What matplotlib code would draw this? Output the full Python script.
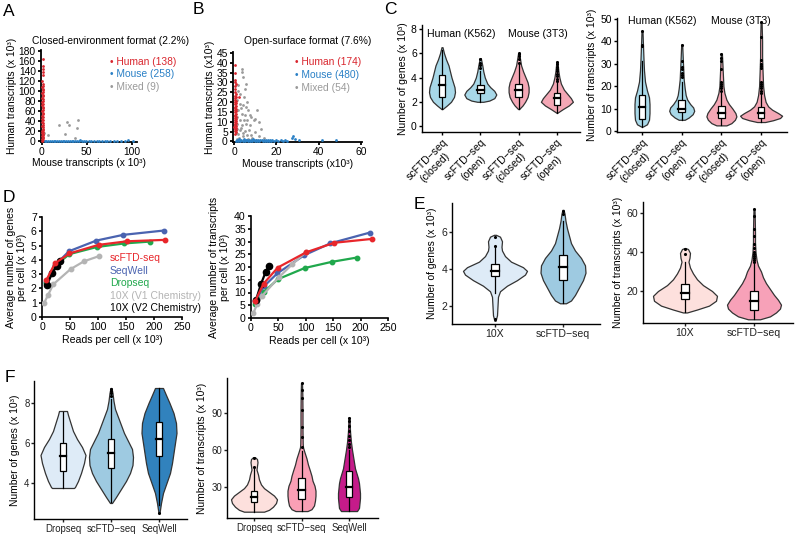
import numpy as np
import matplotlib
matplotlib.use('Agg')
import matplotlib.pyplot as plt
from matplotlib.patches import Rectangle

plt.rcParams['font.family'] = ['Liberation Sans', 'DejaVu Sans']

# ---------------- data ----------------
# A: closed-environment species mixing (x = mouse, y = human transcripts, x10^3)
human_a = [(0.5, 1), (1.0, 3), (0.3, 5), (1.2, 7), (0.8, 9), (0.4, 11), (1.5, 13), (0.9, 15),
           (0.6, 17), (1.1, 19), (0.2, 21), (1.3, 23), (0.7, 25), (1.0, 28), (0.5, 30), (1.4, 33),
           (0.8, 36), (0.3, 39), (1.2, 42), (0.6, 45), (1.0, 48), (0.4, 51), (1.3, 54), (0.9, 57),
           (0.5, 60), (1.1, 63), (0.7, 66), (1.5, 69), (0.3, 72), (1.0, 75), (0.6, 78), (1.2, 81),
           (0.8, 84), (0.4, 87), (1.1, 90), (0.9, 93), (0.5, 96), (1.3, 99), (0.7, 102), (1.0, 105),
           (0.6, 108), (1.2, 111), (0.9, 115), (0.4, 120), (1.1, 133), (0.8, 138), (1.3, 145),
           (0.7, 151), (1.0, 165)]
mouse_a = [(3, 1), (5, 0.5), (7, 1.5), (9, 0.5), (11, 1), (13, 0.5), (15, 1.5), (17, 0.5), (19, 1),
           (21, 0.5), (23, 1.5), (25, 1), (27, 0.5), (29, 1), (31, 1.5), (33, 0.5), (35, 1), (37, 0.5),
           (39, 1), (41, 1.5), (43, 3), (45, 0.5), (47, 1), (49, 0.5), (52, 1), (55, 0.5), (58, 1),
           (61, 0.5), (64, 1), (67, 0.5), (70, 1.5), (73, 0.5), (76, 1), (80, 0.5), (84, 1), (88, 0.5),
           (93, 1), (96, 2.5), (101, 0.5)]
mixed_a = [(2, 17), (7, 12), (19, 32), (26, 14), (28, 39), (30, 33), (39, 27), (40, 42), (37, 7)]

# B: open-surface species mixing
human_b = [(0.4, 4), (0.8, 5), (0.3, 5.5), (0.9, 6), (0.5, 6.5), (0.7, 7), (0.2, 7.5), (1.0, 8),
           (0.6, 8.5), (0.4, 9), (0.9, 9.5), (0.3, 10), (0.7, 10.5), (0.5, 11), (1.0, 11.5), (0.4, 12),
           (0.8, 12.5), (0.6, 13), (0.3, 13.5), (0.9, 14), (0.5, 15), (0.7, 15.5), (0.4, 16), (1.0, 16.5),
           (0.6, 17), (0.3, 17.5), (0.8, 18), (0.5, 19), (0.7, 19.5), (0.4, 20), (0.9, 20.5), (0.6, 21),
           (0.3, 22), (0.8, 22.5), (0.5, 23), (0.7, 24), (0.4, 25), (0.6, 26.5), (0.5, 28), (0.8, 29),
           (0.4, 30), (0.6, 31), (0.5, 35), (0.4, 39), (2.2, 22.5)]
mouse_b = [(1, 0.3), (1.5, 0.8), (2, 0.4), (2.5, 1.0), (3, 0.2), (3.5, 0.7), (4, 0.4), (4.5, 1.1),
           (5, 0.3), (5.5, 0.8), (6, 0.5), (6.5, 0.2), (7, 0.9), (7.5, 0.4), (8, 0.7), (8.5, 0.3),
           (9, 1.0), (9.5, 0.5), (10, 0.2), (10.5, 0.8), (11, 0.4), (11.5, 0.6), (12, 0.3), (12.5, 0.9),
           (13, 0.5), (13.5, 0.2), (14, 0.7), (14.5, 0.4), (15, 0.9), (15.5, 0.3), (16, 0.6), (16.5, 0.2),
           (17, 0.8), (17.5, 0.4), (18, 0.5), (19, 0.3), (20, 0.7), (21, 0.4), (22, 0.6), (23, 0.3),
           (24, 0.5), (25, 0.3), (27.5, 1.5), (28, 2.5), (29, 1.0), (30.5, 0.5), (41.5, 0.5), (48, 0.5)]
mixed_b = [(3.7, 37), (4.1, 32.8), (5.7, 29.4), (2.1, 28.6), (2.9, 24.3), (4.8, 22.6), (1.3, 21.3),
           (2.9, 19.2), (4.4, 18.4), (5.7, 17.5), (6.8, 15.8), (2.1, 15.8), (3.7, 14.1), (5.2, 13.3),
           (7.6, 13.3), (1.3, 12.4), (2.9, 11.1), (4.8, 10.7), (6.3, 11.1), (9.2, 10.7), (1.6, 9),
           (3.7, 8.2), (5.7, 8.7), (7.6, 8.2), (11.9, 9.8), (12.7, 6.5), (1.3, 6.5), (2.9, 5.6),
           (5.2, 5.3), (7.3, 6), (9.8, 4.8), (2.1, 3.6), (4.1, 2.6), (6, 3.1), (8.7, 1.9), (2.5, 1.5),
           (4.8, 0.7), (6.8, 1), (10.5, 0.7), (14, 1.9), (3.7, 35.4), (5.2, 26.9), (10.8, 15.8),
           (10, 11.6), (1.8, 25.5), (3.3, 16.8), (6.2, 20.2), (8.2, 12.2), (1.0, 4.2), (3.1, 7.0),
           (8.0, 3.5), (4.4, 4.5), (1.6, 1.0), (12.0, 3.0)]

# C: violin profiles (value, relative width) + box stats (q1, median, q3, lower, upper) + outliers
c_groups = ['Human (K562)', 'Mouse (3T3)']
c_labels = ['scFTD\u2212seq\n(closed)', 'scFTD\u2212seq\n(open)', 'scFTD\u2212seq\n(closed)', 'scFTD\u2212seq\n(open)']
c_genes_y = [[1.4, 1.7, 2.0, 2.4, 2.8, 3.2, 3.6, 4.0, 4.5, 5.0, 5.5, 6.0, 6.5],
             [2.0, 2.1, 2.3, 2.6, 2.9, 3.2, 3.5, 4.0, 4.5, 5.0, 5.6],
             [1.4, 1.7, 2.0, 2.4, 2.8, 3.2, 3.6, 4.0, 4.5, 5.0, 5.5, 6.0],
             [1.1, 1.4, 1.7, 2.0, 2.3, 2.6, 3.0, 3.5, 4.0, 4.5, 5.3]]
c_genes_w = [[0.5, 5, 9, 12, 13, 12.5, 11, 9.5, 8, 6.5, 4, 2, 0.5],
             [3, 9, 14, 16, 14, 10, 7, 4.5, 3, 2, 0.5],
             [0.5, 4, 6.5, 9, 10, 10, 9, 7, 4.5, 2.5, 1.5, 0.5],
             [0.5, 6, 12, 16, 14, 11, 7, 4, 2.5, 1.5, 0.5]]
c_genes_box = [(2.4, 3.4, 4.2, 1.4, 6.3), (2.7, 3.0, 3.4, 2.0, 4.5),
               (2.4, 3.0, 3.5, 1.4, 5.0), (1.75, 2.3, 2.7, 1.1, 3.6)]
c_genes_out = [[], [4.8, 5.0, 5.2, 5.5], [5.2, 5.5, 5.8, 5.9, 6.0],
               [3.7, 3.9, 4.1, 4.3, 4.5, 4.7, 4.9, 5.1, 5.3]]

c_tx_y = [[2, 3, 5, 8, 12, 15, 18, 22, 27, 32, 38, 44.5],
          [5, 6, 7.5, 9, 10.5, 12, 14, 16, 19, 23, 28, 33, 38.5],
          [2.5, 3.5, 5, 6.5, 8, 10, 12, 14, 17, 20, 25, 30, 34.5],
          [4, 4.8, 5.8, 6.8, 8, 9.5, 11, 13, 16, 20, 26, 33, 40, 48.5]]
c_tx_w = [[1, 5, 7, 7.5, 7.5, 7, 5, 3, 2, 1.5, 1, 0.5],
          [3, 7, 11, 12.5, 11.5, 8.5, 5.5, 4, 3, 2, 1.5, 1, 0.5],
          [5, 10, 13.5, 15, 14, 11, 7.5, 5, 3, 2, 1.5, 1, 0.5],
          [4, 12, 19, 21, 17, 11, 7, 4.5, 3, 2, 1.5, 1, 1, 0.5]]
c_tx_box = [(5.5, 10.5, 16, 2, 31), (8.5, 10, 14, 5, 22), (6, 8, 11, 2.5, 17), (6, 8, 10.5, 4, 16.5)]
c_tx_out = [[38, 38.5, 44.5], [24, 25, 26, 27.5, 28.5, 31, 38.5],
            [18, 19, 20, 21, 22, 27.5, 31, 32.5, 34.5],
            [17, 18, 19, 20, 21, 22, 28, 29, 30, 31.5, 42, 48.5]]

# D: saturation curves (reads per cell x10^3)
d_names = ['scFTD-seq', 'SeqWell', 'Dropseq', '10X (V1 Chemistry)', '10X (V2 Chemistry)']
d_reads = [[8, 23, 49, 101, 152, 220],
           [8, 24, 48, 97, 145, 217],
           [8, 24, 49, 98, 147, 193],
           [4, 11, 20, 51, 75, 101],
           [9, 18, 27, 33]]
d_genes = [[2.6, 3.75, 4.45, 5.05, 5.3, 5.4],
           [2.45, 3.65, 4.6, 5.35, 5.75, 6.05],
           [2.35, 3.6, 4.4, 4.9, 5.15, 5.28],
           [1.0, 1.55, 2.28, 3.35, 3.9, 4.25],
           [2.25, 3.05, 3.6, 3.9]]
d_tx = [[6.8, 13.5, 19.8, 25.8, 29.5, 31.0],
        [6.5, 12.5, 17.5, 24.6, 29.3, 33.5],
        [5.5, 10.3, 15.2, 19.6, 22.0, 23.7],
        [1.8, 5.3, 8.6, 16.0, 21.0, 26.0],
        [7.0, 13.2, 18.2, 20.5]]

# E: 10X vs scFTD-seq
e_labels = ['10X', 'scFTD\u2212seq']
e_genes_y = [[1.2, 1.5, 2.0, 2.5, 2.8, 3.1, 3.4, 3.7, 3.9, 4.1, 4.4, 4.7, 5.0, 5.2, 5.5, 5.75, 5.85],
             [2.15, 2.3, 2.6, 3.0, 3.4, 3.8, 4.2, 4.6, 5.0, 5.4, 5.8, 6.2, 6.6, 7.0, 7.2]]
e_genes_w = [[0.5, 2, 2.5, 3, 5, 12, 22, 30, 32, 28, 16, 10, 7, 6.5, 7, 5, 1],
             [3, 8, 12, 16, 20, 22.5, 22, 18, 12, 8, 6, 4, 2.5, 1.5, 0.5]]
e_genes_box = [(3.6, 3.9, 4.3, 2.7, 5.2), (3.4, 4.1, 4.75, 2.15, 6.6)]
e_genes_out = [[1.3, 5.25, 5.75], [7.0, 7.15]]
e_tx_y = [[9, 10.5, 12.5, 15, 17.5, 20, 23, 26, 29, 32, 35, 37, 39.5, 41.5, 42],
          [5.5, 7, 9, 11, 13, 15.5, 18, 21, 24, 27, 30, 33, 36, 40, 45, 50, 56, 62]]
e_tx_w = [[2, 12, 24, 31, 32, 27, 18, 12, 8, 5, 3.5, 4.5, 5, 3, 0.5],
          [6, 16, 22, 26, 27, 24, 20, 16, 12, 9, 7, 4, 2.5, 1.5, 1, 1, 0.8, 0.5]]
e_tx_box = [(16, 19, 23.5, 9, 35), (10.5, 15, 20, 5.5, 34)]
e_tx_out = [[39, 41.5], [35, 36, 37, 38, 39, 40, 42, 44, 48, 52, 58.5, 62]]

# F: Dropseq / scFTD-seq / SeqWell
f_labels = ['Dropseq', 'scFTD\u2212seq', 'SeqWell']
f_genes_y = [[3.75, 3.8, 4.1, 4.5, 5.0, 5.4, 5.8, 6.2, 6.6, 7.0, 7.4, 7.6],
             [3.0, 3.3, 3.7, 4.1, 4.5, 4.9, 5.3, 5.7, 6.1, 6.5, 6.9, 7.3, 7.7, 8.1, 8.5, 8.75],
             [2.5, 3.0, 3.5, 4.0, 4.5, 5.0, 5.5, 6.0, 6.5, 7.0, 7.5, 8.0, 8.4, 8.75]]
f_genes_w = [[11, 12, 15, 18, 21, 22.5, 19, 14, 10, 7.5, 5, 4],
             [1, 5, 10, 15, 19, 21.5, 22, 21, 17, 13, 10, 7, 4, 2.5, 1.5, 0.5],
             [0.5, 2, 4, 7.5, 11, 13, 14.5, 16, 17.5, 17, 14.5, 10.5, 7, 4]]
f_genes_box = [(4.6, 5.35, 6.0, 3.75, 7.55), (4.75, 5.5, 6.2, 3.05, 8.2), (5.35, 6.2, 7.05, 2.9, 8.75)]
f_genes_out = [[], [8.35, 8.5, 8.6, 8.7], [2.5]]
f_tx_y = [[10, 11.5, 14, 17, 20, 23, 26, 29, 32, 36, 40, 44, 47, 50, 52.5, 54],
          [10.5, 12, 15, 19, 23, 27, 31, 35, 39, 43, 48, 53, 58, 62, 65, 75, 90, 105, 114],
          [10.5, 13, 17, 21, 25, 29, 33, 37, 41, 45, 50, 55, 60, 66, 75, 86]]
f_tx_w = [[10, 15, 19, 22, 23, 20, 15, 10, 7, 5, 4, 2.5, 3, 3.5, 3, 1],
          [6, 10, 12.5, 13.5, 14, 14, 13, 11, 10, 8.5, 6.5, 5, 3, 1.5, 1.2, 1, 1, 0.8, 0.5],
          [8, 10, 10.5, 11, 11, 10.5, 10, 9, 7.5, 6, 5, 4, 3, 2, 1, 0.5]]
f_tx_box = [(18, 22, 27, 10, 45), (20.6, 27.6, 37.6, 10.5, 59), (21.5, 30.3, 42.5, 10.5, 60)]
f_tx_out = [[46.5, 53.5], [62, 70.7, 78.8, 92.3, 101.8, 108.6, 114], [62, 65, 68, 71, 75, 79, 83, 86]]

# ---------------- helpers ----------------
W, H = 797, 534
FS = 7.2


def add_ax(l, t, r, b):
    return fig.add_axes([l / W, 1 - b / H, (r - l) / W, (b - t) / H])


def clean(ax, lw=0.8, size=FS):
    for s in ['top', 'right']:
        ax.spines[s].set_visible(False)
    for s in ['left', 'bottom']:
        ax.spines[s].set_linewidth(lw)
    ax.tick_params(labelsize=size, length=2.5, width=lw, pad=1.2)


def violin(ax, pos, ys, ws, box, fc, outl, scale, bw):
    ys = np.asarray(ys, float)
    ws = np.asarray(ws, float) * scale
    ax.fill_betweenx(ys, pos - ws, pos + ws, facecolor=fc, edgecolor='#333333', lw=0.9, zorder=2)
    q1, med, q3, lo, hi = box
    ax.plot([pos, pos], [lo, hi], color='black', lw=0.9, zorder=3)
    ax.add_patch(Rectangle((pos - bw / 2, q1), bw, q3 - q1, facecolor='white',
                           edgecolor='black', lw=0.9, zorder=4))
    ax.plot([pos - bw / 2, pos + bw / 2], [med, med], color='black', lw=1.6, zorder=5)
    if outl:
        ax.scatter([pos] * len(outl), outl, s=5, c='black', linewidths=0, zorder=6)


def pts(a):
    a = np.array(a, float)
    return a[:, 0], a[:, 1]


fig = plt.figure(figsize=(7.97, 5.34), dpi=100)

RED, BLUE, GRAY = '#d9262e', '#2a80c6', '#9a9a9a'

# ---------------- A ----------------
ax = add_ax(41, 50, 137, 142)
for data, col in [(mixed_a, GRAY), (human_a, RED), (mouse_a, BLUE)]:
    x, y = pts(data)
    ax.scatter(x, y, s=4, c=col, linewidths=0, zorder=3, clip_on=False)
ax.set_xlim(-1, 106)
ax.set_ylim(-1, 182)
ax.set_yticks(range(0, 181, 20))
ax.set_xticks([0, 50, 100])
clean(ax, lw=1.3, size=7.4)
ax.set_ylabel('Human transcripts (x 10\u00b3)', fontsize=7.4, labelpad=1)
ax.set_xlabel('Mouse transcripts (x 10\u00b3)', fontsize=7.4, labelpad=0.5)
fig.text(32 / W, 1 - 41 / H, 'Closed-environment format (2.2%)', fontsize=7.4, va='center')
for i, (t, c) in enumerate([('Human (138)', RED), ('Mouse (258)', BLUE), ('Mixed (9)', GRAY)]):
    fig.text(110 / W, 1 - (62 + 12.3 * i) / H, '\u2022 ' + t, fontsize=7.4, color=c, va='center')

# ---------------- B ----------------
ax = add_ax(233, 52, 362, 142)
for data, col in [(mixed_b, GRAY), (human_b, RED), (mouse_b, BLUE)]:
    x, y = pts(data)
    ax.scatter(x, y, s=4, c=col, linewidths=0, zorder=3, clip_on=False)
ax.set_xlim(-0.5, 60.5)
ax.set_ylim(-0.3, 45.5)
ax.set_yticks(range(0, 46, 5))
ax.set_xticks([0, 20, 40, 60])
clean(ax, lw=1.3, size=7.4)
ax.set_ylabel('Human transcripts (x10\u00b3)', fontsize=7.4, labelpad=1)
ax.set_xlabel('Mouse transcripts (x10\u00b3)', fontsize=7.4, labelpad=1)
fig.text(244 / W, 1 - 41 / H, 'Open-surface format (7.6%)', fontsize=7.4, va='center')
for i, (t, c) in enumerate([('Human (174)', RED), ('Mouse (480)', BLUE), ('Mixed (54)', GRAY)]):
    fig.text(295 / W, 1 - (62 + 13 * i) / H, '\u2022 ' + t, fontsize=7.4, color=c, va='center')

# ---------------- C ----------------
c_cols = ['#a8d8e8', '#a8d8e8', '#f4a7b5', '#f4a7b5']


def panel_c(box_px, first_px, ylim, yticks, ys, ws, boxes, outs, spacing, ylabel, grp_y):
    l, t, r, b = box_px
    ax = add_ax(l, t, r, b)
    for i in range(4):
        violin(ax, i + 1, ys[i], ws[i], boxes[i], c_cols[i], outs[i], 1 / spacing, 6.5 / spacing)
    ax.set_ylim(*ylim)
    x0 = 1 - (first_px - l) / spacing
    ax.set_xlim(x0, x0 + (r - l) / spacing)
    ax.set_yticks(yticks)
    ax.set_xticks([1, 2, 3, 4])
    ax.set_xticklabels(c_labels, rotation=45, ha='right', va='top',
                       rotation_mode='anchor', multialignment='center')
    clean(ax, lw=1.0, size=7.5)
    ax.set_ylabel(ylabel, fontsize=7.5, labelpad=2)
    for k, g in enumerate(c_groups):
        ax.text(1.5 + 2 * k, grp_y, g, fontsize=7.6, ha='center', va='center',
                transform=ax.get_xaxis_transform())
    return ax


panel_c((422, 25, 580, 132), 442, (-0.49, 8.33), [0, 2, 4, 6, 8], c_genes_y, c_genes_w,
        c_genes_box, c_genes_out, 38.3, 'Number of genes (x 10\u00b3)', 0.915)
panel_c((617, 18, 787, 132), 642, (-0.45, 50.4), range(0, 51, 10), c_tx_y, c_tx_w,
        c_tx_box, c_tx_out, 39.7, 'Number of transcripts (x 10\u00b3)', 0.97)

# ---------------- D ----------------
d_cols = ['#e8262b', '#4a63b0', '#20a84c', '#b4b4b4', '#000000']


def panel_d(box_px, yvals, ylim, ystep, ylabel, legend):
    ax = add_ax(*box_px)
    for i in range(5):
        ms = 4.5 if i == 4 else 3.2
        ax.plot(d_reads[i], yvals[i], '-o', color=d_cols[i], lw=1.6, ms=ms, zorder=3 + (i == 0))
    ax.set_xlim(0, 250)
    ax.set_ylim(*ylim)
    ax.set_xticks(range(0, 251, 50))
    ax.set_yticks(np.arange(ylim[0], ylim[1] + 0.01, ystep))
    clean(ax, lw=1.2, size=7.6)
    ax.set_ylabel(ylabel, fontsize=7.6, labelpad=3, linespacing=1.1)
    ax.set_xlabel('Reads per cell (x 10\u00b3)', fontsize=7.6, labelpad=2)
    if legend:
        for i, n in enumerate(d_names):
            fig.text(110 / W, 1 - (258 + 12.6 * i) / H, n, color=d_cols[i], fontsize=7.5, va='center')


panel_d((42, 217, 182, 317), d_genes, (0, 7), 1, 'Average number of genes\nper cell (x 10\u00b3)', True)
panel_d((251, 216, 388, 318), d_tx, (0, 40), 5, 'Average number of transcripts\nper cell (x 10\u00b3)', False)

# ---------------- E / F ----------------


def panel_vio(box_px, first_px, spacing, ys, ws, boxes, outs, cols, labels, ylim, yticks, ylabel,
              bw_px, size):
    l, t, r, b = box_px
    ax = add_ax(l, t, r, b)
    for i in range(len(ys)):
        violin(ax, i + 1, ys[i], ws[i], boxes[i], cols[i], outs[i], 1 / spacing, bw_px / spacing)
    x0 = 1 - (first_px - l) / spacing
    ax.set_xlim(x0, x0 + (r - l) / spacing)
    ax.set_ylim(*ylim)
    ax.set_yticks(yticks)
    ax.set_xticks(range(1, len(ys) + 1))
    ax.set_xticklabels(labels)
    clean(ax, lw=1.0, size=size)
    ax.tick_params(colors='#222222', pad=0.8)
    ax.set_ylabel(ylabel, fontsize=7.4, labelpad=3)
    return ax


panel_vio((452, 203, 600, 324), 495, 68, e_genes_y, e_genes_w, e_genes_box, e_genes_out,
          ['#deebf7', '#9ecae1'], e_labels, (1.03, 7.57), [2, 4, 6], 'Number of genes (x 10\u00b3)', 7.5, 7.6)
panel_vio((643, 202, 793, 323), 685, 69, e_tx_y, e_tx_w, e_tx_box, e_tx_out,
          ['#fde0dd', '#f7a1b8'], e_labels, (3.6, 65.6), [20, 40, 60], 'Number of transcripts (x 10\u00b3)', 7.5, 7.6)
panel_vio((34, 381, 187, 519), 63, 48, f_genes_y, f_genes_w, f_genes_box, f_genes_out,
          ['#deebf7', '#9ecae1', '#3182bd'], f_labels, (2.2, 9.1), [4, 6, 8], 'Number of genes (x 10\u00b3)', 6.5, 6.9)
panel_vio((227, 378, 378, 518), 254, 47.5, f_tx_y, f_tx_w, f_tx_box, f_tx_out,
          ['#fde0dd', '#fa9fb5', '#c51b8a'], f_labels, (4.9, 118), [30, 60, 90], 'Number of transcripts (x 10\u00b3)', 6.5, 6.9)

# panel letters
for letter, (px, py) in {'A': (9, 12), 'B': (198, 10), 'C': (390, 9), 'D': (9, 197),
                         'E': (419, 205), 'F': (10, 377)}.items():
    fig.text(px / W, 1 - py / H, letter, fontsize=12.5, ha='center', va='center')

fig.savefig('out.png', dpi=100)
